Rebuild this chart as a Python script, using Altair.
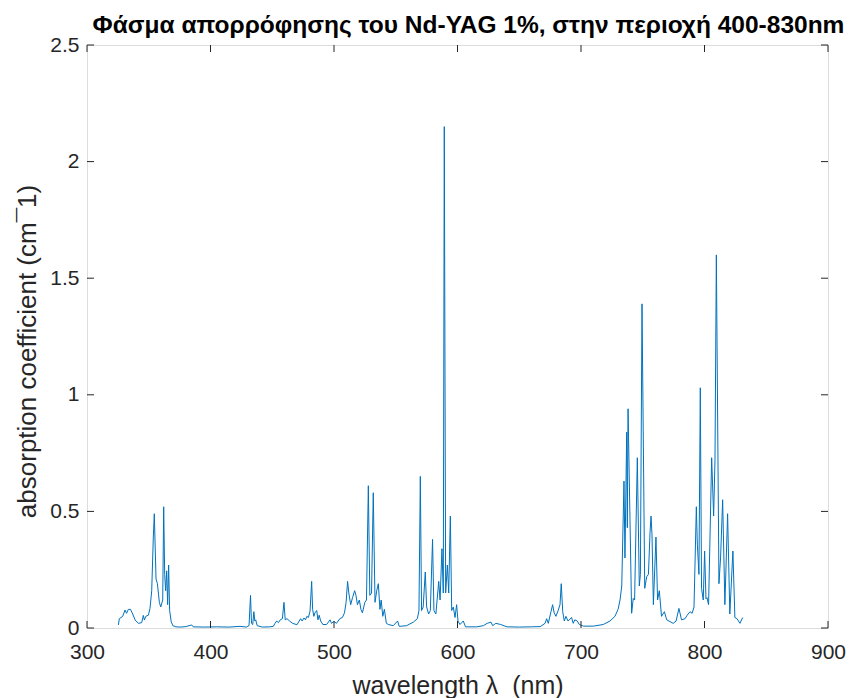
import altair as alt
import pandas as pd

# Absorption spectrum of Nd:YAG (1 %), wavelength in nm, coefficient in cm^-1
wavelength = [
    325.4, 326.2, 328.9, 330.8, 332.0, 333.5, 335.2, 337.0, 339.0, 341.6,
    344.3, 345.6, 346.5, 347.6, 349.7, 351.0, 352.4, 353.7, 354.5, 355.3,
    355.9, 357.0, 358.6, 359.7, 361.3, 362.1, 362.9, 363.7, 364.5, 365.3,
    366.1, 366.9, 368.2, 369.5, 372.0, 376.0, 380.0, 384.8, 386.0, 395.0,
    405.0, 415.0, 423.9, 429.0, 431.2, 432.4, 433.2, 434.2, 435.1, 435.9,
    436.6, 437.8, 442.0, 448.0, 450.9, 452.2, 453.6, 455.0, 456.5, 458.2,
    459.5, 460.5, 462.0, 464.0, 466.5, 470.0, 473.0, 474.2, 475.7, 476.9,
    478.0, 479.3, 480.6, 481.9, 482.7, 483.7, 484.6, 486.0, 487.0, 488.0,
    489.2, 491.0, 494.0, 496.8, 498.0, 500.0, 502.0, 504.7, 506.8, 508.5,
    509.8, 511.0, 512.0, 513.5, 515.0, 516.7, 517.8, 519.0, 520.5, 521.8,
    523.0, 525.0, 526.3, 527.8, 529.0, 530.4, 531.8, 533.2, 534.6, 535.9,
    537.2, 538.2, 539.5, 540.8, 542.4, 544.0, 548.0, 551.5, 552.8, 558.8,
    564.2, 567.5, 568.8, 569.9, 570.9, 572.2, 573.9, 575.0, 576.6, 578.0,
    579.8, 580.9, 582.5, 584.8, 585.9, 587.4, 588.5, 589.3, 590.4, 591.8,
    592.9, 594.2, 595.3, 596.6, 598.0, 599.3, 600.4, 602.0, 604.7, 606.5,
    615.5, 621.0, 624.0, 627.1, 628.5, 631.0, 635.0, 640.0, 650.0, 660.0,
    667.0, 670.9, 672.2, 673.5, 675.7, 677.0, 678.3, 679.7, 681.5, 683.0,
    684.0, 685.2, 686.5, 687.8, 689.5, 692.4, 693.7, 695.0, 697.0, 698.6,
    702.0, 710.0, 718.0, 723.5, 727.5, 730.0, 731.6, 733.0, 734.8, 735.6,
    737.0, 737.5, 738.1, 741.0, 742.3, 743.4, 745.6, 747.2, 748.1, 749.4,
    751.6, 753.2, 754.6, 755.9, 756.7, 757.5, 758.6, 760.7, 762.0, 763.4,
    765.2, 767.5, 769.4, 774.7, 777.0, 779.3, 781.4, 784.2, 786.0, 788.3,
    790.0, 791.5, 793.4, 794.2, 795.5, 796.6, 797.6, 799.0, 800.1, 801.2,
    802.0, 803.3, 805.8, 807.4, 808.5, 809.6, 811.7, 813.0, 814.7, 816.5,
    818.7, 820.5, 823.0, 824.6, 826.3, 828.7, 830.9,
]
absorption = [
    0.013, 0.040, 0.050, 0.077, 0.063, 0.080, 0.080, 0.060, 0.034, 0.020,
    0.023, 0.054, 0.034, 0.050, 0.055, 0.083, 0.160, 0.390, 0.490, 0.330,
    0.210, 0.190, 0.110, 0.090, 0.120, 0.520, 0.230, 0.160, 0.245, 0.100,
    0.270, 0.075, 0.027, 0.010, 0.005, 0.004, 0.006, 0.013, 0.005, 0.004,
    0.005, 0.004, 0.007, 0.004, 0.010, 0.140, 0.020, 0.015, 0.070, 0.030,
    0.035, 0.010, 0.004, 0.005, 0.007, 0.020, 0.030, 0.023, 0.035, 0.040,
    0.110, 0.035, 0.040, 0.030, 0.020, 0.014, 0.040, 0.030, 0.043, 0.035,
    0.050, 0.045, 0.072, 0.200, 0.080, 0.050, 0.065, 0.075, 0.035, 0.055,
    0.030, 0.015, 0.015, 0.035, 0.020, 0.028, 0.020, 0.040, 0.045, 0.065,
    0.110, 0.200, 0.150, 0.100, 0.130, 0.160, 0.140, 0.100, 0.120, 0.080,
    0.065, 0.110, 0.120, 0.610, 0.140, 0.150, 0.580, 0.110, 0.160, 0.190,
    0.080, 0.120, 0.050, 0.080, 0.020, 0.015, 0.010, 0.030, 0.007, 0.010,
    0.025, 0.040, 0.075, 0.650, 0.075, 0.090, 0.240, 0.090, 0.060, 0.075,
    0.380, 0.075, 0.060, 0.200, 0.120, 0.340, 0.150, 2.150, 0.150, 0.270,
    0.150, 0.480, 0.075, 0.090, 0.045, 0.100, 0.030, 0.015, 0.030, 0.005,
    0.005, 0.010, 0.020, 0.025, 0.010, 0.020, 0.015, 0.005, 0.004, 0.005,
    0.006, 0.020, 0.040, 0.020, 0.070, 0.100, 0.065, 0.050, 0.075, 0.100,
    0.190, 0.070, 0.030, 0.050, 0.030, 0.045, 0.020, 0.035, 0.030, 0.015,
    0.008, 0.008, 0.015, 0.030, 0.050, 0.080, 0.120, 0.180, 0.630, 0.300,
    0.840, 0.430, 0.940, 0.063, 0.127, 0.120, 0.730, 0.180, 0.230, 1.390,
    0.170, 0.220, 0.230, 0.410, 0.480, 0.400, 0.100, 0.390, 0.120, 0.160,
    0.050, 0.070, 0.035, 0.020, 0.030, 0.084, 0.035, 0.040, 0.055, 0.070,
    0.063, 0.090, 0.520, 0.360, 0.230, 1.030, 0.170, 0.120, 0.330, 0.125,
    0.130, 0.100, 0.730, 0.480, 0.720, 1.600, 0.190, 0.300, 0.550, 0.100,
    0.490, 0.060, 0.330, 0.045, 0.040, 0.020, 0.045,
]

x_ticks = [300, 400, 500, 600, 700, 800, 900]
y_ticks = [0, 0.5, 1, 1.5, 2, 2.5]

title_text = "Φάσμα απορρόφησης του Nd-YAG 1%, στην περιοχή 400-830nm"
x_title = "wavelength λ \u00a0(nm)"
y_title = "absorption coefficient (cm¯1)"

W, H = 741, 583
TICK = 7
FONT = "Liberation Sans"
INK = "#262626"
LINE = "#0072BD"

spec = pd.DataFrame({"wl": wavelength, "ab": absorption})
xt = pd.DataFrame({"wl": x_ticks})
yt = pd.DataFrame({"ab": y_ticks})

x_enc = alt.X(
    "wl:Q",
    scale=alt.Scale(domain=[300, 900], nice=False, zero=False),
    axis=alt.Axis(
        values=x_ticks, format="d", ticks=False, tickSize=0, domain=False,
        grid=False, labelFlush=False, labelFont=FONT, labelFontSize=21,
        labelColor=INK, labelPadding=13, title=x_title, titleFont=FONT,
        titleFontSize=25, titleFontWeight="normal", titleColor=INK,
        titleBaseline="middle", titleY=57,
    ),
)
y_enc = alt.Y(
    "ab:Q",
    scale=alt.Scale(domain=[0, 2.5], nice=False),
    axis=alt.Axis(
        values=y_ticks, format="~g", ticks=False, tickSize=0, domain=False,
        grid=False, labelFlush=False, labelFont=FONT, labelFontSize=21,
        labelColor=INK, labelPadding=8, title=y_title, titleFont=FONT,
        titleFontSize=26, titleFontWeight="normal", titleColor=INK,
        titleBaseline="middle", titleX=-60, titleY=306,
    ),
)

line = alt.Chart(spec).mark_line(color=LINE, strokeWidth=1).encode(
    x=x_enc, y=y_enc
)

rule = dict(color=INK, strokeWidth=1)
bottom_ticks = alt.Chart(xt).mark_rule(**rule).encode(
    x=x_enc, y=alt.value(H), y2=alt.value(H - TICK)
)
top_ticks = alt.Chart(xt).mark_rule(**rule).encode(
    x=x_enc, y=alt.value(0), y2=alt.value(TICK)
)
left_ticks = alt.Chart(yt).mark_rule(**rule).encode(
    y=y_enc, x=alt.value(0), x2=alt.value(TICK)
)
right_ticks = alt.Chart(yt).mark_rule(**rule).encode(
    y=y_enc, x=alt.value(W), x2=alt.value(W - TICK)
)

chart = (
    alt.layer(line, bottom_ticks, top_ticks, left_ticks, right_ticks)
    .properties(
        width=W,
        height=H,
        title=alt.TitleParams(
            title_text, font=FONT, fontSize=24.5, fontWeight="bold",
            color="black", anchor="middle", offset=-4, dx=11,
        ),
        autosize=alt.AutoSizeParams(type="none"),
        padding={"left": 87, "top": 45, "right": 23, "bottom": 70},
    )
    .configure_view(stroke=INK, strokeWidth=1)
    .configure(background="white")
)

chart.save("out.html", embed_options={"renderer": "svg", "actions": False})
